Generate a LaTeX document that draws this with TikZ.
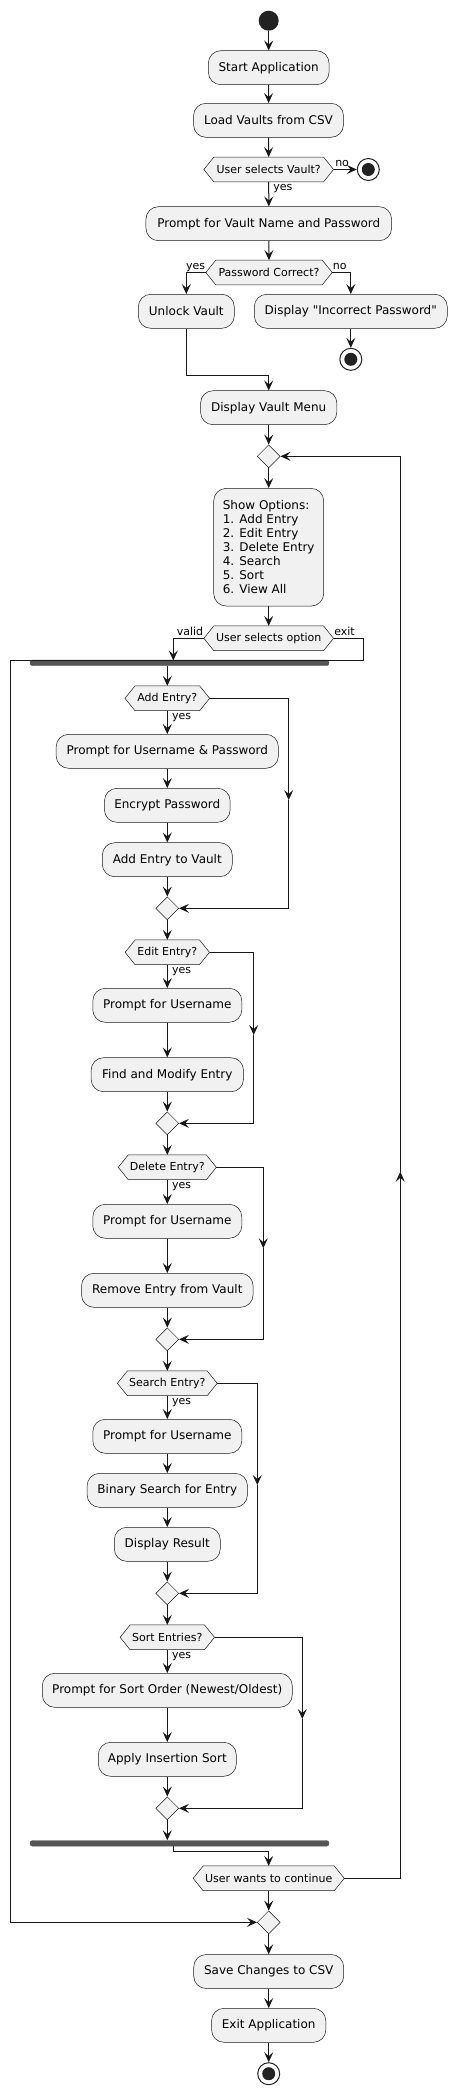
\documentclass[tikz,border=0pt]{standalone}
\usepackage{fontspec}
\setmainfont{DejaVu Sans}[Ligatures=TeXOff]
\usetikzlibrary{arrows.meta,shapes.geometric,backgrounds,calc}
\definecolor{boxfill}{HTML}{F1F1F1}
\definecolor{ink}{HTML}{181818}
\definecolor{barc}{HTML}{555555}
\definecolor{dotc}{HTML}{222222}
\tikzset{
 act/.style={draw=ink, line width=0.5pt, fill=boxfill, rounded corners=12.5pt, minimum height=34pt, inner sep=0pt, font=\fontsize{12}{14}\selectfont},
 dec/.style={inner sep=0pt, minimum height=24.4pt, font=\fontsize{11}{13}\selectfont},
 merge/.style={diamond, draw=ink, line width=0.5pt, fill=boxfill, minimum width=23pt, minimum height=23pt, inner sep=0pt},
 bar/.style={fill=barc, draw=barc, rounded corners=2.5pt, inner sep=0pt, minimum height=5.7pt},
 conn/.style={draw=ink, line width=1pt, -{Stealth[length=10pt,width=9pt,inset=4pt]}},
 lbl/.style={font=\fontsize{11}{13}\selectfont, inner sep=0.5pt, text height=8pt, text depth=2.5pt},
 startdot/.style={circle, fill=dotc, minimum size=20pt, inner sep=0pt},
 stopdot/.style={circle, draw=dotc, line width=1pt, fill=white, minimum size=22pt, inner sep=0pt, path picture={\fill[dotc] (path picture bounding box.center) circle (6.5pt);}},
}
\newcommand\drawhex[1]{\begin{scope}[on background layer]\filldraw[draw=ink,line width=0.5pt,fill=boxfill] (#1.west) -- ([xshift=10pt]#1.north west) -- ([xshift=-10pt]#1.north east) -- (#1.east) -- ([xshift=-10pt]#1.south east) -- ([xshift=10pt]#1.south west) -- cycle;\end{scope}}
\begin{document}
\begin{tikzpicture}[x=1pt,y=-1pt]
\useasboundingbox (0,0) rectangle (457,2094);
% nodes
\node[startdot] (st) at (268.7,20.7) {};
\node[act, minimum width=120.7pt] (a1) at (268.7,67.7) {Start Application};
\node[act, minimum width=150pt] (a2) at (268.5,120.3) {Load Vaults from CSV};
\node[dec, minimum width=129.3pt] (d1) at (268.7,169.5) {User selects Vault?};
\node[stopdot] (s1) at (368.3,169.5) {};
\node[act, minimum width=245.7pt] (a3) at (268.8,223.7) {Prompt for Vault Name and Password};
\node[dec, minimum width=126pt] (d2) at (269,272.5) {Password Correct?};
\node[act, minimum width=96pt] (a4) at (186.3,311.3) {Unlock Vault};
\node[act, minimum width=193pt] (a5) at (350.8,311.3) {Display "Incorrect Password"};
\node[stopdot] (s2) at (350.8,359.3) {};
\node[act, minimum width=136.3pt] (a6) at (268.7,407.7) {Display Vault Menu};
\node[merge] (m0) at (268.7,456.3) {};
\node[act, minimum width=110pt, minimum height=117.7pt, align=left] (a7) at (268.7,547.2) {Show Options:\\1. Add Entry\\2. Edit Entry\\3. Delete Entry\\4. Search\\5. Sort\\6. View All};
\node[dec, minimum width=129.3pt] (d3) at (268.7,638.3) {User selects option};
\node[bar, minimum width=299pt] (fork) at (179.5,662.85) {};
\node[dec, minimum width=84.3pt] (e1) at (167.3,698.3) {Add Entry?};
\node[act, minimum width=222.3pt] (b1) at (167.3,751.3) {Prompt for Username \& Password};
\node[act, minimum width=125.7pt] (b2) at (167.3,805.3) {Encrypt Password};
\node[act, minimum width=130pt] (b3) at (167.3,859.7) {Add Entry to Vault};
\node[merge] (m1) at (167.3,908.3) {};
\node[dec, minimum width=84pt] (e2) at (167.3,952.3) {Edit Entry?};
\node[act, minimum width=149pt] (c1) at (167.3,1005.3) {Prompt for Username};
\node[act, minimum width=152.4pt] (c2) at (167.3,1074.7) {Find and Modify Entry};
\node[merge] (m2) at (167.3,1123.3) {};
\node[dec, minimum width=97.7pt] (e3) at (167.3,1167.3) {Delete Entry?};
\node[act, minimum width=149pt] (f1) at (167.3,1221.3) {Prompt for Username};
\node[act, minimum width=171.6pt] (f2) at (167.3,1290.3) {Remove Entry from Vault};
\node[merge] (m3) at (167.3,1339.3) {};
\node[dec, minimum width=99.4pt] (e4) at (167.3,1383.3) {Search Entry?};
\node[act, minimum width=149pt] (g1) at (167.3,1436.3) {Prompt for Username};
\node[act, minimum width=160.4pt] (g2) at (167.3,1490.3) {Binary Search for Entry};
\node[act, minimum width=106pt] (g3) at (167.3,1544.3) {Display Result};
\node[merge] (m4) at (167.3,1593.3) {};
\node[dec, minimum width=94pt] (e5) at (167.3,1637.3) {Sort Entries?};
\node[act, minimum width=250pt] (h1) at (167.3,1690.3) {Prompt for Sort Order (Newest/Oldest)};
\node[act, minimum width=138pt] (h2) at (167.3,1759.3) {Apply Insertion Sort};
\node[merge] (m5) at (167.3,1808.3) {};
\node[bar, minimum width=299pt] (join) at (179.5,1843.35) {};
\node[dec, minimum width=150.7pt] (d4) at (268.7,1878.3) {User wants to continue};
\node[merge] (m6) at (268.7,1922.3) {};
\node[act, minimum width=150pt] (a8) at (268.7,1971.5) {Save Changes to CSV};
\node[act, minimum width=114.3pt] (a9) at (268.7,2025.3) {Exit Application};
\node[stopdot] (s3) at (268.7,2073.7) {};
\drawhex{d1}\drawhex{d2}\drawhex{d3}\drawhex{d4}
\drawhex{e1}\drawhex{e2}\drawhex{e3}\drawhex{e4}\drawhex{e5}
% routing coordinates
\coordinate (u1) at (186.3,375);
\coordinate (fk) at (173.3,660.5);
\coordinate (x1) at (363.3,660.3);
\coordinate (x2) at (10.7,660.3);
\coordinate (x3) at (10.7,1922.3);
\coordinate (f0) at (167.3,665.7);
\coordinate (r1) at (288.7,800);
\coordinate (r2) at (253.7,1035);
\coordinate (r3) at (263.3,1248.3);
\coordinate (r4) at (257.3,1485);
\coordinate (r5) at (302.3,1719);
\coordinate (j0) at (173.3,1846);
\coordinate (j1) at (173.3,1851);
\coordinate (l1) at (400.3,1878.3);
\coordinate (l2) at (400.3,1171.7);
\coordinate (l3) at (400.3,456.3);
% connectors
\draw[conn] (st) -- (a1);
\draw[conn] (a1) -- (a2);
\draw[conn] (a2) -- (d1);
\draw[conn] (d1.east) -- (s1.west);
\draw[conn] (d1.south) -- (a3.north);
\draw[conn] (a3) -- (d2);
\draw[conn] (d2.west) -| (a4.north);
\draw[conn] (d2.east) -| (a5.north);
\draw[conn] (a5.south) -- (s2.north);
\draw[conn] (a4.south) -- (u1) -| (a6.north);
\draw[conn] (a6) -- (m0);
\draw[conn] (m0) -- (a7);
\draw[conn] (a7) -- (d3);
\draw[conn] (d3.west) -| (fk);
\draw[conn] (d3.east) -| (x1) -- (x2) -- (x3) -- (m6.west);
\draw[conn] (f0) -- (e1.north);
\draw[conn] (e1) -- (b1);
\draw[conn] (b1) -- (b2);
\draw[conn] (b2) -- (b3);
\draw[conn] (b3) -- (m1);
\draw[conn] (e1.east) -| (r1);
\draw[conn] (r1) |- (m1.east);
\draw[conn] (m1) -- (e2);
\draw[conn] (e2) -- (c1);
\draw[conn] (c1) -- (c2);
\draw[conn] (c2) -- (m2);
\draw[conn] (e2.east) -| (r2);
\draw[conn] (r2) |- (m2.east);
\draw[conn] (m2) -- (e3);
\draw[conn] (e3) -- (f1);
\draw[conn] (f1) -- (f2);
\draw[conn] (f2) -- (m3);
\draw[conn] (e3.east) -| (r3);
\draw[conn] (r3) |- (m3.east);
\draw[conn] (m3) -- (e4);
\draw[conn] (e4) -- (g1);
\draw[conn] (g1) -- (g2);
\draw[conn] (g2) -- (g3);
\draw[conn] (g3) -- (m4);
\draw[conn] (e4.east) -| (r4);
\draw[conn] (r4) |- (m4.east);
\draw[conn] (m4) -- (e5);
\draw[conn] (e5) -- (h1);
\draw[conn] (h1) -- (h2);
\draw[conn] (h2) -- (m5);
\draw[conn] (e5.east) -| (r5);
\draw[conn] (r5) |- (m5.east);
\draw[conn] (m5.south) -- (m5.south |- join.north);
\draw[conn] (j0) -- (j1) -| (d4.north);
\draw[conn] (d4.south) -- (m6.north);
\draw[conn] (d4.east) -- (l1) -- (l2);
\draw[conn] (l2) -- (l3) -- (m0.east);
\draw[conn] (m6) -- (a8);
\draw[conn] (a8) -- (a9);
\draw[conn] (a9) -- (s3);
% labels
\node[lbl, anchor=south west, xshift=1pt] (ln1) at (d1.east) {no};
\node[lbl, anchor=north west, xshift=4pt] (ly1) at (d1.south) {yes};
\node[lbl, anchor=south east] (ly2) at (d2.west) {yes};
\node[lbl, anchor=south west] (ln2) at (d2.east) {no};
\node[lbl, anchor=south east] (lv) at (d3.west) {valid};
\node[lbl, anchor=south west] (lx) at (d3.east) {exit};
\node[lbl, anchor=north west, xshift=4pt] (ye1) at (e1.south) {yes};
\node[lbl, anchor=north west, xshift=4pt] (ye2) at (e2.south) {yes};
\node[lbl, anchor=north west, xshift=4pt] (ye3) at (e3.south) {yes};
\node[lbl, anchor=north west, xshift=4pt] (ye4) at (e4.south) {yes};
\node[lbl, anchor=north west, xshift=4pt] (ye5) at (e5.south) {yes};
\end{tikzpicture}
\end{document}
